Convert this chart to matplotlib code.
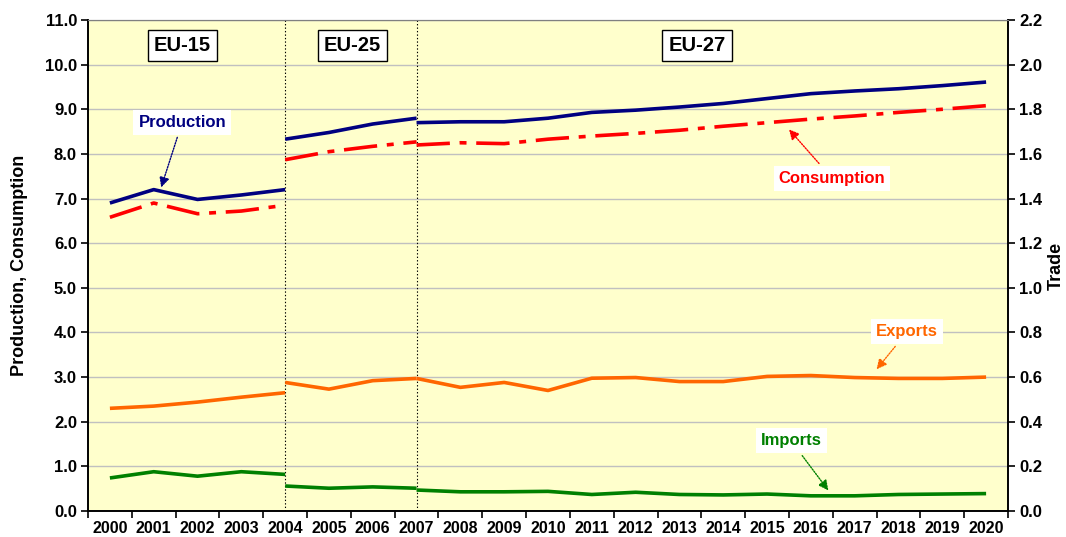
import matplotlib
matplotlib.use("Agg")
import matplotlib.pyplot as plt
import numpy as np

plt.rcParams['font.family'] = ['Liberation Sans', 'DejaVu Sans']
plt.rcParams['font.weight'] = 'bold'
plt.rcParams['lines.scale_dashes'] = False

years = [str(y) for y in range(2000, 2021)]

# Production (left axis), three membership periods
prod_eu15 = [6.90, 7.20, 6.98, 7.08, 7.20]
prod_eu25 = [8.33, 8.48, 8.67, 8.80]
prod_eu27 = [8.70, 8.72, 8.72, 8.80, 8.93, 8.98, 9.05, 9.13, 9.24, 9.35, 9.41, 9.46, 9.53, 9.61]

# Consumption (left axis)
cons_eu15 = [6.58, 6.90, 6.66, 6.72, 6.85]
cons_eu25 = [7.87, 8.05, 8.17, 8.27]
cons_eu27 = [8.20, 8.25, 8.23, 8.33, 8.40, 8.46, 8.53, 8.62, 8.70, 8.78, 8.85, 8.93, 9.00, 9.08]

# Exports (right axis, Trade)
exp_eu15 = [0.460, 0.470, 0.488, 0.510, 0.530]
exp_eu25 = [0.576, 0.546, 0.584, 0.594]
exp_eu27 = [0.594, 0.554, 0.576, 0.540, 0.595, 0.598, 0.580, 0.580, 0.603, 0.607, 0.598, 0.594, 0.594, 0.600]

# Imports (right axis, Trade)
imp_eu15 = [0.148, 0.176, 0.156, 0.176, 0.164]
imp_eu25 = [0.112, 0.102, 0.108, 0.102]
imp_eu27 = [0.094, 0.086, 0.086, 0.088, 0.074, 0.084, 0.074, 0.072, 0.076, 0.068, 0.068, 0.074, 0.076, 0.078]

idx15 = np.arange(0, 5)
idx25 = np.arange(4, 8)
idx27 = np.arange(7, 21)

periods = ['EU-15', 'EU-25', 'EU-27']
period_bounds = [4, 7]

NAVY = '#000080'
RED = '#FF0000'
ORANGE = '#FF6600'
GREEN = '#008000'

fig = plt.figure(figsize=(10.66, 5.37), dpi=100)
ax = fig.add_axes([88/1066, 26/537, 920/1066, 491/537])
ax.set_facecolor('#FFFFCC')
ax2 = ax.twinx()

lw = 2.6
dash = (0, (24, 7, 5, 7))
for idx, p, c in [(idx15, prod_eu15, cons_eu15), (idx25, prod_eu25, cons_eu25), (idx27, prod_eu27, cons_eu27)]:
    ax.plot(idx, p, color=NAVY, lw=lw, solid_capstyle='butt', zorder=4)
    ax.plot(idx, c, color=RED, lw=lw, linestyle=dash, zorder=4)
for idx, e, m in [(idx15, exp_eu15, imp_eu15), (idx25, exp_eu25, imp_eu25), (idx27, exp_eu27, imp_eu27)]:
    ax2.plot(idx, e, color=ORANGE, lw=lw, solid_capstyle='butt', zorder=4)
    ax2.plot(idx, m, color=GREEN, lw=lw, solid_capstyle='butt', zorder=4)

for b in period_bounds:
    ax.axvline(b, color='black', lw=0.8, linestyle=(0, (1, 1.5)), zorder=3)

ax.set_xlim(-0.5, 20.5)
ax.set_ylim(0, 11)
ax2.set_ylim(0, 2.2)
ax.set_yticks(np.arange(0, 11.01, 1.0))
ax.set_yticklabels([f'{v:.1f}' for v in np.arange(0, 11.01, 1.0)])
ax2.set_yticks(np.arange(0, 2.201, 0.2))
ax2.set_yticklabels([f'{v:.1f}' for v in np.arange(0, 2.201, 0.2)])
ax.set_xticks(range(21))
ax.set_xticklabels(years)
ax.set_xticks(np.arange(-0.5, 21, 1.0), minor=True)
ax.tick_params(axis='x', which='major', length=0, pad=7, labelsize=11.5)
ax.tick_params(axis='x', which='minor', length=5, width=1.2, direction='out')
ax.tick_params(axis='y', length=5, width=1.2, labelsize=12, pad=3)
ax2.tick_params(axis='y', length=5, width=1.2, labelsize=12, pad=3)
for lab in ax.get_xticklabels() + ax.get_yticklabels() + ax2.get_yticklabels():
    lab.set_fontweight('bold')

ax.yaxis.grid(True, color='#C0C0C0', lw=1.0, zorder=0)
ax.set_axisbelow(True)
ax.spines['top'].set_color('#808080')
ax2.spines['top'].set_color('#808080')
for a in (ax, ax2):
    a.spines['left'].set_linewidth(1.2)
    a.spines['right'].set_linewidth(1.2)
    a.spines['bottom'].set_linewidth(1.2)

ax.set_ylabel('Production, Consumption', fontsize=13, fontweight='bold', labelpad=12)
ax2.set_ylabel('Trade', fontsize=13, fontweight='bold', labelpad=4)

# period labels
period_x = [1.65, 5.53, 13.4]
for name, px in zip(periods, period_x):
    ax.text(px, 10.42, name, ha='center', va='center', fontsize=14.5, fontweight='bold', zorder=6,
            bbox=dict(boxstyle='square,pad=0.3', fc='white', ec='black', lw=1.0))

def note(axis, text, xy, xytext, color):
    axis.annotate(text, xy=xy, xytext=xytext, ha='center', va='center', fontsize=12,
                  fontweight='bold', color=color, zorder=7,
                  bbox=dict(boxstyle='square,pad=0.3', fc='white', ec='none'),
                  arrowprops=dict(arrowstyle='-|>,head_length=0.5,head_width=0.25', color=color,
                                  lw=1.0, linestyle=(0, (1, 1)), shrinkA=2, shrinkB=0))

note(ax, 'Production', (1.17, 7.25), (1.65, 8.71), NAVY)
note(ax, 'Consumption', (15.5, 8.55), (16.48, 7.46), RED)
note(ax2, 'Exports', (17.5, 0.635), (18.2, 0.803), ORANGE)
note(ax2, 'Imports', (16.4, 0.092), (15.55, 0.314), GREEN)

ax.set_zorder(ax2.get_zorder() - 1)
ax2.patch.set_visible(False)
ax.patch.set_visible(True)

fig.savefig('out.png', dpi=100)
